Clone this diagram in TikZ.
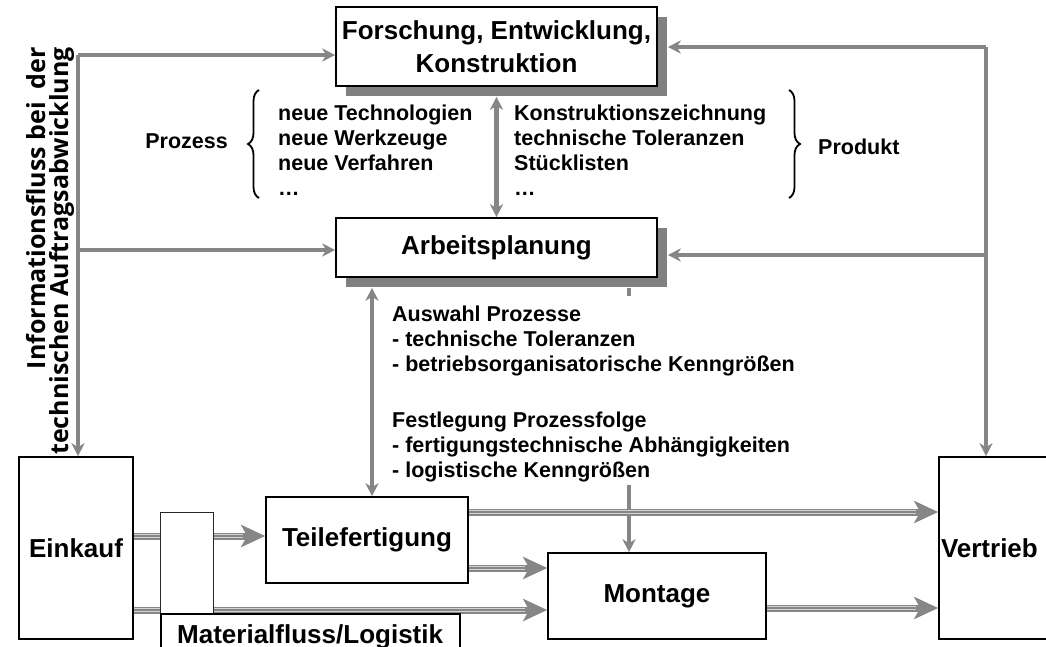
\documentclass[tikz,border=0pt]{standalone}
\usepackage{fontspec}
\setmainfont{Liberation Sans}
\newfontfamily\sidefont{Open Sans}
\usetikzlibrary{arrows.meta,shadows,calc,decorations.pathreplacing}
\definecolor{linegray}{RGB}{134,134,134}
\definecolor{shadowgray}{RGB}{128,128,128}
\definecolor{stripe}{RGB}{210,210,210}
\begin{document}
\begin{tikzpicture}[x=1pt,y=-1pt,
  box/.style={draw=black, line width=1.6pt, fill=white, inner sep=0pt, align=center,
    font=\bfseries\fontsize{26}{33}\selectfont},
  shadowbox/.style={box, drop shadow={shadow xshift=10pt, shadow yshift=-10pt,
    fill=shadowgray, opacity=1}},
  small/.style={inner sep=0pt, align=left, font=\bfseries\fontsize{21.5}{25}\selectfont},
  info/.style={draw=linegray, line width=4.5pt},
  tip/.style={-{Stealth[length=13pt,width=13pt,inset=4pt]}},
  bothtips/.style={{Stealth[length=13pt,width=13pt,inset=4pt]}-{Stealth[length=13pt,width=13pt,inset=4pt]}},
  matflow/.style={draw=linegray, line width=7pt,
    -{Stealth[length=24pt,width=22pt,inset=6pt]},
    postaction={draw=stripe, line width=4pt, arrows=-, shorten >=22pt},
    postaction={draw=linegray, line width=1.2pt, arrows=-, shorten >=22pt}},
  brace/.style={draw=black, line width=1.8pt, decorate,
    decoration={brace, amplitude=11pt}}
]
\useasboundingbox (0,0) rectangle (1046,647);

% planning boxes with drop shadow
\node[shadowbox, minimum width=321pt, minimum height=79pt] (fek) at (496.5,46.5)
  {Forschung, Entwicklung,\\Konstruktion};
\node[shadowbox, minimum width=321pt, minimum height=59pt] (ap) at (496.5,247.5)
  {Arbeitsplanung};

% shop floor boxes
\node[box, minimum width=114pt, minimum height=182pt] (ein) at (76,548) {Einkauf};
\node[box, minimum width=202pt, minimum height=86pt] (tf) at (367,540) {Teilefertigung};
\node[box, minimum width=218pt, minimum height=86pt] (mon) at (657,596) {Montage};
\node[box, minimum width=121pt, minimum height=182pt, text width=117pt, align=left]
  (ver) at (999.5,548) {Vertrieb};

% side caption
\node[rotate=90, anchor=east, align=right, inner sep=0pt,
  font=\sidefont\bfseries\fontsize{25}{23}\selectfont] (side) at (50,47)
  {Informationsfluss bei\ \ der\\technischen Auftragsabwicklung};

% information flow
\coordinate (iL) at (78,55);
\coordinate (iL2) at (78,250);
\coordinate (iR) at (986,47);
\coordinate (iR2) at (986,255);
\coordinate (iA) at (372,0);
\coordinate (iS) at (629,0);
\coordinate (iS2) at (629,485);
\draw[info, tip] (iL) -- (fek.west |- iL);
\draw[info, tip] (iL) -- (iL |- ein.north);
\draw[info, tip] (iL2) -- (ap.west |- iL2);
\draw[info, tip] (iR) -- ($(fek.east |- iR)+(10,0)$);
\draw[info, tip] (iR) -- (iR |- ver.north);
\draw[info, tip] (iR2) -- ($(ap.east |- iR2)+(10,0)$);
\draw[info, bothtips] ($(fek.south)+(0,10)$) -- (ap.north);
\draw[info, bothtips] ($(ap.south -| iA)+(0,10)$) -- (tf.north -| iA);
\draw[info] ($(ap.south -| iS)+(0,10)$) -- ($(ap.south -| iS)+(0,18)$);
\draw[info, tip] (iS2) -- (iS2 |- mon.north);

% process and product data (base anchor sits on the last line)
\node[small, anchor=east] (proz) at (228,141) {Prozess};
\draw[brace] (259,198) -- (259,90);
\node[small, anchor=base west] (pl) at (278,196)
  {neue Technologien\\neue Werkzeuge\\neue Verfahren\\…};
\node[small, anchor=base west] (prl) at (514,196)
  {Konstruktionszeichnung\\technische Toleranzen\\Stücklisten\\…};
\draw[brace] (789,90) -- (789,198);
\node[small, anchor=west] (prod) at (818,147) {Produkt};

\node[small, anchor=base west] (apl) at (392,477)
  {Auswahl Prozesse\\- technische Toleranzen\\- betriebsorganisatorische Kenngrößen\\[31pt]
   Festlegung Prozessfolge\\- fertigungstechnische Abhängigkeiten\\- logistische Kenngrößen};

% material flow
\coordinate (mA) at (0,536);
\coordinate (mB) at (0,610);
\coordinate (mC) at (0,512);
\coordinate (mD) at (0,568);
\coordinate (mE) at (0,608);
\draw[matflow] (ein.east |- mA) -- (tf.west |- mA);
\draw[matflow] (ein.east |- mB) -- (mon.west |- mB);
\draw[matflow] (tf.east |- mC) -- (ver.west |- mC);
\draw[matflow] (tf.east |- mD) -- (mon.west |- mD);
\draw[matflow] (mon.east |- mE) -- (ver.west |- mE);

% logistics
\node[draw=black!85, line width=1pt, fill=white, inner sep=0pt,
  minimum width=53pt, minimum height=102pt] (pillar) at (186.5,563) {};
\node[box, minimum width=299pt, minimum height=50pt] (mat) at (310.5,639) {};
\node[anchor=base west, inner sep=0pt, font=\bfseries\fontsize{26}{30}\selectfont]
  (matlabel) at (177,643) {Materialfluss/Logistik};
\end{tikzpicture}
\end{document}
